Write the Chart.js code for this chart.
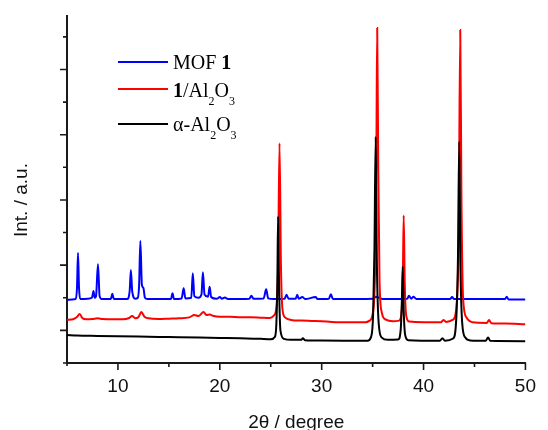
<!DOCTYPE html>
<html>
<head>
<meta charset="utf-8">
<script src="https://cdn.jsdelivr.net/npm/chart.js@4/dist/chart.umd.min.js"></script>
<style>
  html, body { margin: 0; padding: 0; background: #fff; }
  #wrap { position: relative; width: 548px; height: 430px; }
  #c { position: absolute; left: 0; top: 0; }
  .lg-line { position: absolute; height: 2px; width: 50px; left: 118px; }
  .lg-text { position: absolute; left: 173px; font-family: "Liberation Serif", "Times New Roman", serif; font-size: 20px; line-height: 20px; color: #000; white-space: nowrap; }
  .lg-text sub { font-size: 12px; vertical-align: -8px; line-height: 0; }
</style>
</head>
<body>
<div id="wrap">
  <canvas id="c" width="548" height="430"></canvas>
  <div class="lg-line" style="top:61px;background:#0000ff"></div>
  <div class="lg-text" style="top:52px">MOF <b>1</b></div>
  <div class="lg-line" style="top:88px;background:#ff0000"></div>
  <div class="lg-text" style="top:80px"><b>1</b>/Al<sub>2</sub>O<sub>3</sub></div>
  <div class="lg-line" style="top:123px;background:#000000"></div>
  <div class="lg-text" style="top:114px">α-Al<sub>2</sub>O<sub>3</sub></div>
</div>
<script>
// ---- data (2θ in degrees, intensity in arbitrary tick units) ----
const mofTheta = [5.0,5.5,5.85,5.98,6.08,6.18,6.3,7.0,7.45,7.6,7.72,7.85,8.04,8.2,8.4,9.3,9.45,9.6,10.9,11.15,11.27,11.4,11.7,11.95,12.08,12.2,12.35,12.5,12.65,12.9,15.2,15.36,15.5,16.25,16.45,16.62,17.2,17.35,17.5,17.9,18.2,18.34,18.5,18.85,19.0,19.15,19.7,20.0,20.2,20.5,20.8,22.9,23.1,23.3,24.3,24.55,24.75,25.3,26.35,26.55,26.75,27.45,27.6,27.75,28.1,28.4,29.4,29.6,30.7,30.9,31.1,35.1,35.3,36.0,38.4,38.56,38.8,39.0,39.3,42.6,42.8,43.0,48.0,48.16,48.35,50.0];
const mofInt   = [1.93,1.95,1.96,2.3,3.37,2.3,1.96,1.97,2.0,2.21,2.0,2.05,3.03,2.05,1.96,1.96,2.12,1.96,1.96,2.2,2.85,2.2,1.97,2.0,2.4,3.74,2.4,2.30,2.0,1.96,1.96,2.14,1.96,1.98,2.29,1.98,2.0,2.75,2.05,2.0,2.1,2.78,2.1,2.03,2.34,2.02,1.97,2.02,1.97,2.01,1.96,1.97,2.06,1.97,1.98,2.26,1.98,1.96,1.97,2.09,1.97,1.97,2.09,1.97,2.02,1.96,2.02,1.96,1.97,2.11,1.96,1.97,2.03,1.96,1.97,2.06,1.97,2.03,1.96,1.96,2.02,1.96,1.96,2.03,1.95,1.95];

const compTheta = [5.0,5.6,5.95,6.25,6.5,6.9,7.5,8.0,8.5,9.5,10.5,11.1,11.4,11.7,12.0,12.3,12.6,13.0,14.0,15.0,16.0,17.0,17.5,17.9,18.4,18.7,19.0,19.4,20.0,21.0,22.0,23.0,24.0,24.9,25.3,25.55,25.72,25.86,26.0,26.15,26.4,27.0,28.0,29.0,30.0,31.0,33.0,34.3,34.7,35.05,35.25,35.37,35.45,35.55,35.68,35.9,36.3,37.0,37.6,37.85,37.97,38.05,38.15,38.3,38.6,40.0,41.7,41.95,42.2,42.9,43.25,43.45,43.6,43.72,43.88,44.2,44.8,46.2,46.43,46.65,48.0,50.0];
const compInt   = [1.32,1.34,1.40,1.50,1.38,1.34,1.35,1.37,1.35,1.34,1.34,1.38,1.44,1.37,1.40,1.56,1.42,1.37,1.35,1.36,1.37,1.40,1.47,1.44,1.56,1.47,1.49,1.44,1.42,1.42,1.40,1.40,1.39,1.38,1.45,1.7,3.0,6.74,3.0,1.65,1.40,1.32,1.30,1.29,1.28,1.26,1.25,1.25,1.30,1.6,3.0,6.5,10.27,6.0,2.5,1.55,1.33,1.28,1.30,1.6,2.7,4.52,2.5,1.45,1.27,1.25,1.25,1.32,1.26,1.33,1.8,4.0,10.21,5.0,2.0,1.40,1.25,1.23,1.32,1.22,1.21,1.19];

const aluTheta = [5.0,6.0,8.0,10.0,12.0,14.0,16.0,18.0,20.0,22.0,24.0,25.0,25.4,25.55,25.65,25.72,25.82,25.95,26.3,27.0,28.0,28.15,28.35,30.0,34.5,34.85,35.05,35.18,35.3,35.42,35.6,35.9,36.5,37.5,37.75,37.87,37.95,38.05,38.2,38.5,41.6,41.85,42.1,42.9,43.2,43.38,43.5,43.62,43.8,44.1,44.6,46.1,46.33,46.55,50.0];
const aluInt   = [0.86,0.84,0.83,0.82,0.81,0.80,0.79,0.78,0.77,0.76,0.74,0.73,0.80,1.2,2.5,4.49,2.3,1.0,0.74,0.71,0.71,0.76,0.70,0.69,0.68,0.80,1.5,3.5,6.94,3.0,1.2,0.78,0.71,0.72,1.0,1.9,2.95,1.6,0.85,0.70,0.68,0.76,0.68,0.75,1.3,3.3,6.79,3.0,1.2,0.78,0.69,0.68,0.78,0.68,0.67];

const xTickLabels = [10, 20, 30, 40, 50];
const xMinorTicks = [15, 25, 35, 45];
const yMajorTicks = [1, 3, 5, 7, 9];
const yMinorTicks = [0, 2, 4, 6, 8, 10];

const pts = (xs, ys) => xs.map((x, i) => ({ x: x, y: ys[i] }));

const tickMarks = {
  id: 'tickMarks',
  afterDraw(chart) {
    const { ctx, scales: { x, y } } = chart;
    const b = y.bottom, l = x.left;
    ctx.save();
    ctx.strokeStyle = '#1a1a1a';
    ctx.lineWidth = 1.6;
    ctx.beginPath();
    xTickLabels.forEach(v => { const p = x.getPixelForValue(v); ctx.moveTo(p, b); ctx.lineTo(p, b + 7); });
    xMinorTicks.forEach(v => { const p = x.getPixelForValue(v); ctx.moveTo(p, b); ctx.lineTo(p, b + 4); });
    yMajorTicks.forEach(v => { const p = y.getPixelForValue(v); ctx.moveTo(l, p); ctx.lineTo(l - 7, p); });
    yMinorTicks.forEach(v => { const p = y.getPixelForValue(v); ctx.moveTo(l, p); ctx.lineTo(l - 4, p); });
    ctx.moveTo(l, b); ctx.lineTo(l, b + 3);
    ctx.moveTo(l, b); ctx.lineTo(l - 4, b);
    ctx.stroke();
    ctx.restore();
  }
};

new Chart(document.getElementById('c'), {
  type: 'line',
  data: {
    datasets: [
      { label: 'MOF 1', data: pts(mofTheta, mofInt), borderColor: '#0000ff', order: 2 },
      { label: '1/Al2O3', data: pts(compTheta, compInt), borderColor: '#ff0000', order: 1 },
      { label: 'α-Al2O3', data: pts(aluTheta, aluInt), borderColor: '#000000', order: 0 }
    ]
  },
  options: {
    responsive: false,
    animation: false,
    devicePixelRatio: 1,
    layout: { padding: { top: 16, right: 12, left: 0, bottom: 0 } },
    elements: {
      point: { radius: 0 },
      line: { borderWidth: 2, cubicInterpolationMode: 'monotone', fill: false }
    },
    plugins: { legend: { display: false }, tooltip: { enabled: false } },
    scales: {
      x: {
        type: 'linear', min: 5, max: 50,
        afterBuildTicks: s => { s.ticks = xTickLabels.map(v => ({ value: v })); },
        afterFit: s => { s.height = 67; },
        grid: { display: false, drawTicks: false },
        border: { display: true, color: '#1a1a1a', width: 2 },
        ticks: { color: '#111', padding: 12, maxRotation: 0, font: { family: '"Liberation Sans", Arial, sans-serif', size: 19 } },
        title: { display: true, text: '2θ / degree', color: '#111', padding: { top: 0, bottom: 0 }, font: { family: '"Liberation Sans", Arial, sans-serif', size: 19, lineHeight: 0.8 } }
      },
      y: {
        type: 'linear', min: 0, max: 10.64,
        afterFit: s => { s.width = 67; },
        grid: { display: false, drawTicks: false },
        border: { display: true, color: '#1a1a1a', width: 2 },
        ticks: { display: false },
        title: { display: true, text: 'Int. / a.u.    ', color: '#111', padding: { top: 10.5, bottom: 0 }, font: { family: '"Liberation Sans", Arial, sans-serif', size: 19 } }
      }
    }
  },
  plugins: [tickMarks]
});
</script>
</body>
</html>
